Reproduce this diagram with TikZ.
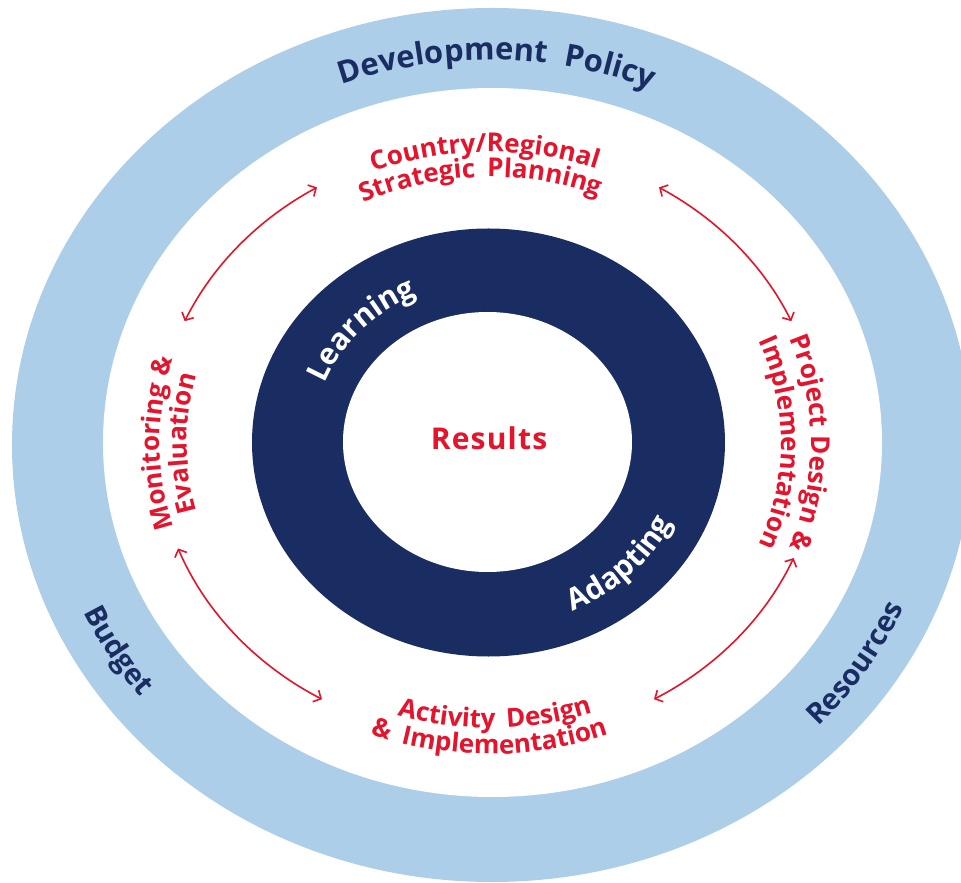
\documentclass[tikz,border=0pt]{standalone}
\usepackage{fontspec}
\setmainfont{Open Sans}
\usetikzlibrary{decorations.text,arrows.meta,calc}
\definecolor{lightband}{RGB}{172,206,232}
\definecolor{navy}{RGB}{26,45,99}
\definecolor{myred}{RGB}{228,20,45}
\newfontfamily\fdev{Open Sans}[LetterSpace=28]
\newfontfamily\fwide{Open Sans}[LetterSpace=18]
\newfontfamily\fring{Open Sans}[LetterSpace=12]
\newfontfamily\fmid{Open Sans}[LetterSpace=4]
\newfontfamily\fband{Open Sans}[LetterSpace=22]
\newcommand\tDev{\fdev\bfseries\fontsize{31}{31}\selectfont\color{navy}}
\newcommand\tTop{\fwide\bfseries\fontsize{26}{26}\selectfont\color{myred}}
\newcommand\tSide{\fmid\bfseries\fontsize{26}{26}\selectfont\color{myred}}
\newcommand\tRing{\fring\bfseries\fontsize{30}{30}\selectfont\color{white}}
\newcommand\tBand{\fband\bfseries\fontsize{29}{29}\selectfont\color{navy}}
\begin{document}
\begin{tikzpicture}[x=1pt,y=1pt,
  arr/.style={draw=myred,line width=1.6pt,{Straight Barb[length=6pt,width=13pt]}-{Straight Barb[length=6pt,width=13pt]}},
  curved/.style={decorate,decoration={text along path,text align=center,text={#1}}}]
\useasboundingbox (-490,-440) rectangle (471,443);
% rings
\fill[lightband] (2,-2) ellipse [x radius=480,y radius=437];
\fill[white] (2.5,0.5) ellipse [x radius=389.5,y radius=354.5];
\fill[navy] (-1.5,0.5) ellipse [x radius=236.5,y radius=214];
\fill[white] (-2.5,1) ellipse [x radius=144.5,y radius=130];
% centre
\node[text=myred,font=\fmid\bfseries\fontsize{30}{30}\selectfont] (results) at (-1,5) {Results};
% curved texts
\path[curved={|\tDev|Development Policy}] (149:422 and 383) arc[start angle=149,end angle=29,x radius=422,y radius=383];
\path[curved={|\tTop|Country/Regional}] (151:320 and 291) arc[start angle=151,end angle=31,x radius=320,y radius=291];
\path[curved={|\tTop|Strategic Planning}] (152:293 and 266) arc[start angle=152,end angle=32,x radius=293,y radius=266];
\path[curved={|\tSide|Monitoring {\&}}] (240:330 and 300) arc[start angle=240,end angle=120,x radius=330,y radius=300];
\path[curved={|\tSide|Evaluation}] (240:303 and 276) arc[start angle=240,end angle=120,x radius=303,y radius=276];
\path[curved={|\tSide|Project Design {\&}}] (60:321 and 291) arc[start angle=60,end angle=-60,x radius=321,y radius=291];
\path[curved={|\tSide|Implementation}] (60:291 and 264) arc[start angle=60,end angle=-60,x radius=291,y radius=264];
\path[curved={|\tTop|Activity Design}] (-149:314 and 285) arc[start angle=-149,end angle=-29,x radius=314,y radius=285];
\path[curved={|\tTop|{\&} Implementation}] (-150:341 and 311) arc[start angle=-150,end angle=-30,x radius=341,y radius=311];
\path[curved={|\tBand|Budget}] (181:447 and 407) arc[start angle=181,end angle=241,x radius=447,y radius=407];
\path[curved={|\tBand|Resources}] (-63:452 and 412) arc[start angle=-63,end angle=-3,x radius=452,y radius=412];
\path[curved={|\tRing|Learning}] (198:178 and 162) arc[start angle=198,end angle=78,x radius=178,y radius=162];
\path[curved={|\tRing|Adapting}] (-104:202 and 184) arc[start angle=-104,end angle=16,x radius=202,y radius=184];
% arrows
\coordinate (tl) at ($(-2,1)+(121:332 and 297)$);
\coordinate (tr) at ($(-2,1)+(59:332 and 297)$);
\coordinate (br) at ($(-2,1)+(-23:332 and 297)$);
\coordinate (bl) at ($(-2,1)+(201:332 and 297)$);
\draw[arr] (tl) arc[start angle=121,end angle=156,x radius=332,y radius=297];
\draw[arr] (tr) arc[start angle=59,end angle=24,x radius=332,y radius=297];
\draw[arr] (br) arc[start angle=-23,end angle=-60,x radius=332,y radius=297];
\draw[arr] (bl) arc[start angle=201,end angle=240,x radius=332,y radius=297];
\end{tikzpicture}
\end{document}
